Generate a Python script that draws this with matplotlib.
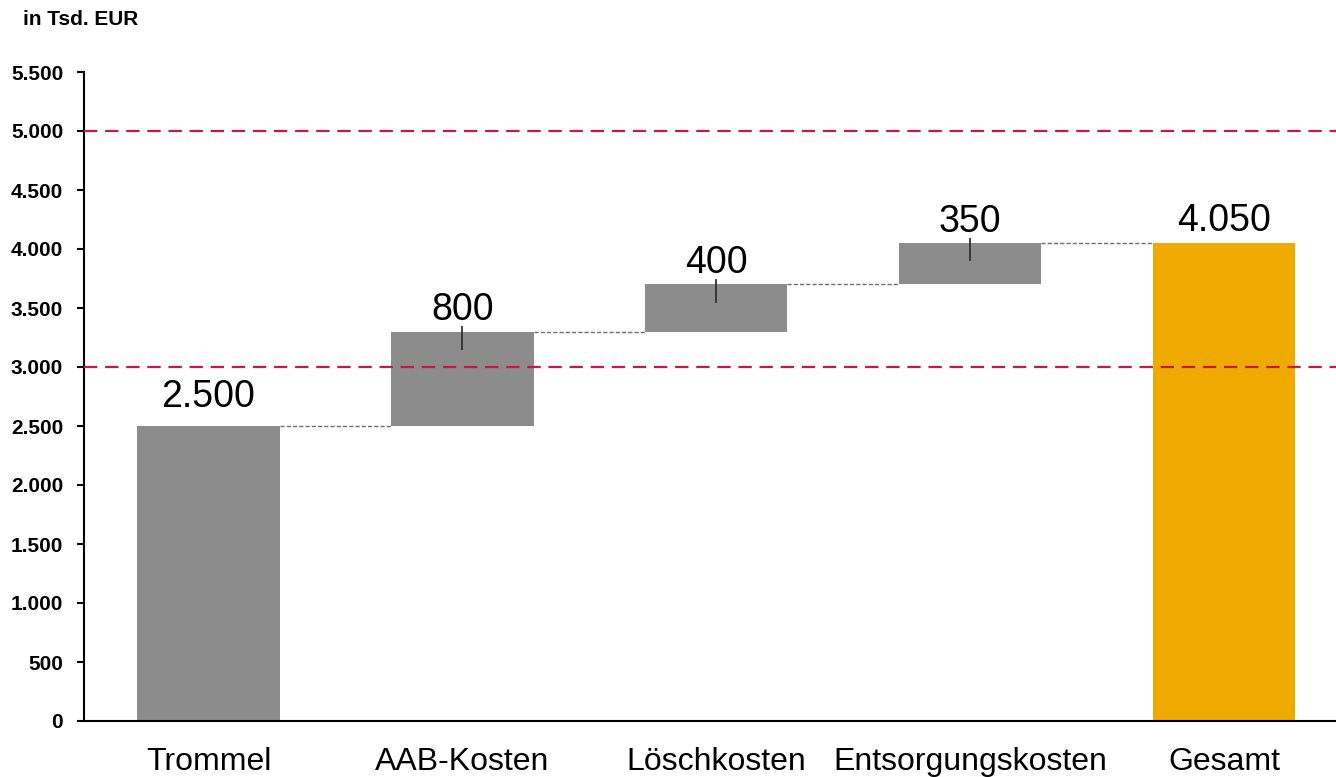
import numpy as np
from matplotlib import pyplot as plt

plt.rcParams['font.family'] = ['Liberation Sans', 'DejaVu Sans']

categories = ['Trommel', 'AAB-Kosten', 'Löschkosten', 'Entsorgungskosten', 'Gesamt']
steps = [2500, 800, 400, 350]
total = sum(steps)
ref_lines = [3000, 5000]
y_ticks = [0, 500, 1000, 1500, 2000, 2500, 3000, 3500, 4000, 4500, 5000, 5500]

grey = '#8C8C8C'
orange = '#EFAA00'
red = '#C8184A'


def de_fmt(v):
    return '{:,.0f}'.format(v).replace(',', '.')


# waterfall: bottoms and heights
values = steps + [total]
bottoms = [0]
for s in steps[1:]:
    bottoms.append(bottoms[-1] + steps[len(bottoms) - 1])
bottoms.append(0)
colors = [grey] * len(steps) + [orange]
# label offset above bar top (points)
label_off = [13.5, 8, 8, 8, 8.5]

fig = plt.figure(figsize=(13.36, 7.77), dpi=100)
ax = fig.add_axes([84 / 1336, 56 / 777, 1 - 84 / 1336, 649 / 777])

x = np.arange(len(categories))
w = 0.56
ax.bar(x, values, w, bottom=bottoms, color=colors, zorder=2)

for yv in ref_lines:
    ax.axhline(yv, color=red, lw=1.6, ls=(0, (6, 3.5)), zorder=3)

# connectors between bars
tops = [b + v for b, v in zip(bottoms, values)]
for i in range(len(categories) - 1):
    ax.plot([x[i] + w / 2, x[i + 1] - w / 2], [tops[i], tops[i]],
            color='#707070', lw=1, ls=(0, (3, 1.5)), zorder=1)

# small marker line on delta bars
for i in range(1, len(steps)):
    ax.plot([x[i], x[i]], [tops[i] + 36, tops[i] - 145], color='#303030', lw=1.3, zorder=4)

for i in range(len(categories)):
    ax.annotate(de_fmt(values[i]), (x[i], tops[i]), xytext=(0, label_off[i]),
                textcoords='offset points', ha='center', va='baseline', fontsize=27)

ax.set_xlim(-0.49, 4.44)
ax.set_ylim(0, 5500)
ax.set_yticks(y_ticks)
ax.set_yticklabels([de_fmt(v) for v in y_ticks], fontsize=15, fontweight='bold')
ax.set_xticks(x)
ax.set_xticklabels(categories, fontsize=23)
ax.tick_params(axis='x', length=0, pad=19)
ax.tick_params(axis='y', length=5, width=1.5, pad=10, direction='out')
ax.spines['top'].set_visible(False)
ax.spines['right'].set_visible(False)
ax.spines['left'].set_linewidth(1.5)
ax.spines['bottom'].set_linewidth(1.5)

fig.text(23 / 1336, 1 - 25 / 777, 'in Tsd. EUR', fontsize=15, fontweight='bold', va='baseline')

fig.savefig('out.png', dpi=100)
